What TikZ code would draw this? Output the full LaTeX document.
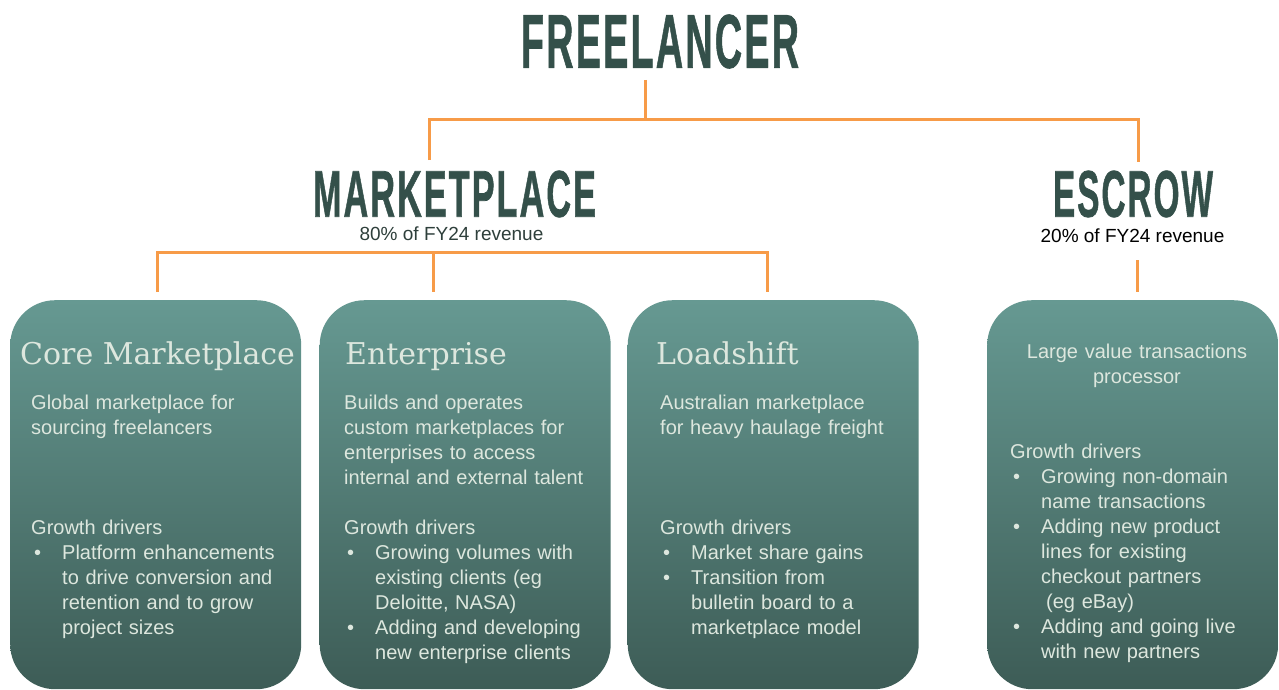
\documentclass[tikz,border=0pt]{standalone}
\usepackage{fontspec}
\usepackage{graphicx}
\setmainfont{Liberation Sans}
\newfontfamily\headfont{DejaVu Serif}
\newfontface\titlefont{Liberation Sans Bold}[FakeBold=1.2, LetterSpace=6]
\definecolor{titlegreen}{HTML}{34504A}
\definecolor{subgreen}{HTML}{2E3F3B}
\definecolor{linkorange}{HTML}{F79B48}
\definecolor{boxtop}{HTML}{669992}
\definecolor{boxbot}{HTML}{3D5C56}
\definecolor{boxtext}{HTML}{DDE7DE}
\newcommand\bitem[1]{\makebox[31pt][l]{\hspace{3pt}\textbullet}#1}
\newcommand\bcont[1]{\hspace*{31pt}#1}
\begin{document}
\begin{tikzpicture}[x=1pt,y=-1pt,
  conn/.style={draw=linkorange, line width=3pt},
  bigtitle/.style={inner sep=0pt, text=titlegreen},
  subtitle/.style={inner sep=0pt, anchor=base, font=\fontsize{19pt}{23pt}\selectfont},
  unitbox/.style={rounded corners=45pt, top color=boxtop, bottom color=boxbot, draw=none,
     minimum width=291pt, minimum height=389pt, anchor=north west, inner sep=0pt},
  boxhead/.style={inner sep=0pt, anchor=base west, text=boxtext, font=\headfont\fontsize{30pt}{36pt}\selectfont},
  boxbody/.style={inner sep=0pt, anchor=base west, text=boxtext, text width=300pt, align=left,
     font=\fontsize{20pt}{25pt}\selectfont},
  boxbodyc/.style={inner sep=0pt, anchor=base, text=boxtext, text width=280pt, align=center,
     font=\fontsize{20pt}{25pt}\selectfont}
]
\useasboundingbox (0,0) rectangle (1279,690);

% titles
\node[bigtitle] (fl) at (660,41.5) {\resizebox{278pt}{53pt}{\titlefont FREELANCER}};
\node[bigtitle] (mk) at (454.5,194) {\resizebox{283pt}{46pt}{\titlefont MARKETPLACE}};
\node[bigtitle] (es) at (1133,194) {\resizebox{160pt}{46pt}{\titlefont ESCROW}};
\node[subtitle, text=subgreen] (mksub) at (451.5,240.5) {80\% of FY24 revenue};
\node[subtitle, text=black] (essub) at (1132.5,242.5) {20\% of FY24 revenue};

% connectors
\coordinate (t0) at (645,80);
\coordinate (t1) at (645,120);
\coordinate (mtop) at (429,160);
\coordinate (etop) at (1138,162);
\draw[conn] (t0) -- (t1);
\draw[conn] (mtop) |- (t1) -| (etop);
\coordinate (m0) at (157,292);
\coordinate (mh) at (433,252);
\coordinate (m1) at (433,292);
\coordinate (m2) at (767,292);
\draw[conn] (m0) |- (mh) -| (m2);
\draw[conn] (mh) -- (m1);
\coordinate (e0) at (1137,260);
\coordinate (e1) at (1137,292);
\draw[conn] (e0) -- (e1);

% boxes
\node[unitbox] (core) at (10,300) {};
\node[unitbox] (ent) at (319.5,300) {};
\node[unitbox] (load) at (627.5,300) {};
\node[unitbox] (esc) at (987,300) {};

% box 1
\node[boxhead] (coreh) at (20,364) {Core Marketplace};
\node[boxbody] (cored) at (31,409) {Global marketplace for\\sourcing freelancers};
\node[boxbody] (coreg) at (31,534) {Growth drivers\\
  \bitem{Platform enhancements}\\
  \bcont{to drive conversion and}\\
  \bcont{retention and to grow}\\
  \bcont{project sizes}};

% box 2
\node[boxhead] (enth) at (345,364) {Enterprise};
\node[boxbody] (entd) at (344,409) {Builds and operates\\custom marketplaces for\\enterprises to access\\internal and external talent};
\node[boxbody] (entg) at (344,534) {Growth drivers\\
  \bitem{Growing volumes with}\\
  \bcont{existing clients (eg}\\
  \bcont{Deloitte, NASA)}\\
  \bitem{Adding and developing}\\
  \bcont{new enterprise clients}};

% box 3
\node[boxhead] (loadh) at (656,364) {Loadshift};
\node[boxbody] (loadd) at (660,409) {Australian marketplace\\for heavy haulage freight};
\node[boxbody] (loadg) at (660,534) {Growth drivers\\
  \bitem{Market share gains}\\
  \bitem{Transition from}\\
  \bcont{bulletin board to a}\\
  \bcont{marketplace model}};

% box 4
\node[boxbodyc] (escd) at (1137,358) {Large value transactions\\processor};
\node[boxbody] (escg) at (1010,458) {Growth drivers\\
  \bitem{Growing non-domain}\\
  \bcont{name transactions}\\
  \bitem{Adding new product}\\
  \bcont{lines for existing}\\
  \bcont{checkout partners}\\
  \hspace*{36pt}(eg eBay)\\
  \bitem{Adding and going live}\\
  \bcont{with new partners}};
\end{tikzpicture}
\end{document}
